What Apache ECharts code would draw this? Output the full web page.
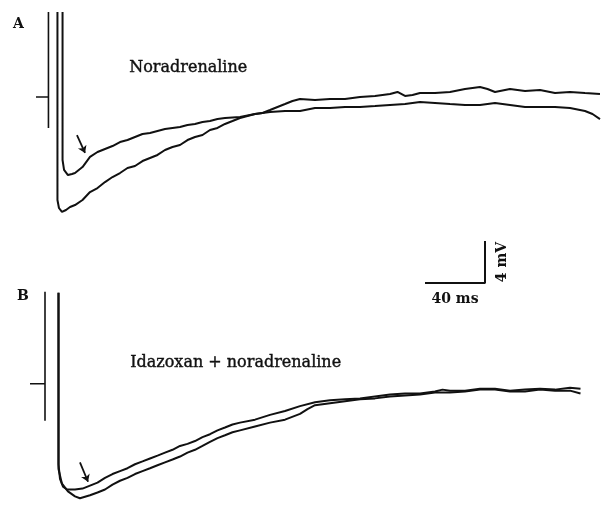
<!DOCTYPE html>
<html>
<head>
    <meta http-equiv="content-type" content="text/html;charset=utf-8" />
    <title>Noradrenaline / Idazoxan</title>
    <script src="https://cdn.jsdelivr.net/npm/echarts@6/dist/echarts.min.js"></script>
    <style type="text/css">
        * { margin: 0; padding: 0 }
        html, body { background: #fff; }
        #chart { width: 611px; height: 506px; }
    </style>
</head>
<body>
<div id="chart"></div>
<script>
    // time in ms (0 = stimulus), membrane potential in mV relative to baseline
    // panel A, control trace (deeper AHP)
    var controlA = [
        [-1.7, 8.10], [-1.7, -9.81], [-0.7, -10.57], [1.3, -10.95], [4, -10.76], [6.7, -10.48],
        [10, -10.29], [15, -9.81], [20, -9.05], [25, -8.67], [30, -8.10], [35, -7.62], [40, -7.24],
        [45, -6.76], [50, -6.57], [55, -6.10], [60, -5.81], [65, -5.52], [70, -5.05], [75, -4.76],
        [80, -4.57], [85, -4.10], [90, -3.81], [95, -3.62], [100, -3.14], [105, -2.95], [110, -2.57],
        [115, -2.29], [120, -2.00], [125, -1.81], [130, -1.62], [135, -1.52], [140, -1.24], [145, -0.95],
        [150, -0.67], [155, -0.38], [160, -0.19], [170, -0.29], [180, -0.19], [190, -0.19], [200, 0],
        [210, 0.10], [220, 0.29], [225, 0.48], [230, 0.10], [235, 0.19], [240, 0.38], [250, 0.38],
        [260, 0.48], [270, 0.76], [280, 0.95], [285, 0.76], [290, 0.48], [300, 0.76], [310, 0.57],
        [320, 0.67], [330, 0.38], [340, 0.48], [350, 0.38], [360, 0.29]
    ];
    // panel A, noradrenaline trace
    var noradA = [
        [1.7, 8.10], [1.7, -6.00], [2.7, -6.95], [5.3, -7.43], [8, -7.33], [10, -7.24], [15, -6.67],
        [20, -5.71], [25, -5.24], [30, -4.95], [35, -4.67], [40, -4.29], [45, -4.10], [50, -3.81],
        [55, -3.52], [60, -3.43], [65, -3.24], [70, -3.05], [75, -2.95], [80, -2.86], [85, -2.67],
        [90, -2.57], [95, -2.38], [100, -2.29], [105, -2.10], [110, -2.00], [120, -1.90], [130, -1.62],
        [140, -1.43], [150, -1.33], [160, -1.33], [170, -1.05], [180, -1.05], [190, -0.95], [200, -0.95],
        [210, -0.86], [220, -0.76], [230, -0.67], [240, -0.48], [250, -0.57], [260, -0.67], [270, -0.76],
        [280, -0.76], [290, -0.57], [300, -0.76], [310, -0.95], [320, -0.95], [330, -0.95], [340, -1.05],
        [350, -1.33], [355, -1.62], [360, -2.10]
    ];
    // panel B, control trace
    var controlB = [
        [-1, 8.95], [-1, -8.38], [1.3, -9.81], [5.3, -10.57], [10, -11.05], [13.3, -11.24], [20, -10.95],
        [25, -10.67], [30, -10.38], [35, -9.90], [40, -9.52], [45, -9.24], [50, -8.86], [55, -8.57],
        [60, -8.29], [65, -8.00], [70, -7.71], [75, -7.43], [80, -7.14], [85, -6.76], [90, -6.48],
        [95, -6.10], [100, -5.71], [105, -5.33], [110, -5.05], [115, -4.76], [120, -4.57], [130, -4.19],
        [140, -3.81], [150, -3.52], [160, -2.95], [165, -2.48], [170, -2.10], [180, -1.90], [190, -1.71],
        [200, -1.52], [210, -1.43], [220, -1.24], [230, -1.14], [240, -1.05], [250, -0.86], [260, -0.86],
        [270, -0.76], [280, -0.57], [290, -0.57], [300, -0.76], [310, -0.76], [320, -0.57], [330, -0.67],
        [340, -0.67], [347, -0.95]
    ];
    // panel B, idazoxan + noradrenaline trace
    var idazB = [
        [-1, 8.95], [-1, -7.90], [0, -9.33], [2, -10.10], [4.7, -10.38], [10, -10.38], [15, -10.29],
        [20, -10.00], [25, -9.71], [30, -9.24], [35, -8.86], [40, -8.57], [45, -8.29], [50, -7.90],
        [55, -7.62], [60, -7.33], [65, -7.05], [70, -6.76], [75, -6.48], [80, -6.10], [85, -5.90],
        [90, -5.62], [95, -5.24], [100, -4.95], [105, -4.57], [110, -4.29], [115, -4.00], [120, -3.81],
        [130, -3.52], [140, -3.05], [150, -2.67], [160, -2.19], [170, -1.81], [180, -1.62], [190, -1.52],
        [200, -1.43], [210, -1.24], [220, -1.05], [230, -0.95], [240, -0.95], [250, -0.76], [255, -0.57],
        [260, -0.67], [270, -0.67], [280, -0.48], [290, -0.48], [300, -0.67], [310, -0.57], [320, -0.48],
        [330, -0.57], [340, -0.38], [347, -0.48]
    ];
    // calibration artifacts at the left of each panel
    var artifactA = [[-7.7, 8.10], [-7.7, -2.95]];
    var tickA = [[-16, 0], [-7.7, 0]];
    var artifactB = [[-10, 9.05], [-10, -3.62]];
    var tickB = [[-20, 0], [-10, 0]];
    // arrows marking the AHP
    var arrowA = [[11.3, -3.62], [16.7, -5.33]];
    var arrowB = [[13.3, -7.71], [18.7, -9.62]];
    // scale bar: 40 ms, 4 mV
    var scaleBar = [[0, 0], [40, 0], [40, 4]];

    var ink = '#111';
    var serif = '"DejaVu Serif", serif';

    function trace(data, idx, w) {
        return {
            type: 'line', data: data, xAxisIndex: idx, yAxisIndex: idx,
            showSymbol: false, symbol: 'none', animation: false,
            lineStyle: { color: ink, width: w || 2 }
        };
    }
    function arrow(pts, idx) {
        return {
            type: 'lines', coordinateSystem: 'cartesian2d', xAxisIndex: idx, yAxisIndex: idx,
            symbol: ['none', 'arrow'], symbolSize: 7, animation: false,
            lineStyle: { color: ink, width: 1.8, opacity: 1 },
            data: [{ coords: pts }]
        };
    }

    var chart = echarts.init(document.getElementById('chart'));
    chart.setOption({
        backgroundColor: '#fff',
        animation: false,
        grid: [
            { left: 0, top: 2.5, width: 600, height: 220.5 },
            { left: 0, top: 282, width: 600, height: 231 },
            { left: 425, top: 241, width: 60, height: 42 }
        ],
        xAxis: [
            { type: 'value', gridIndex: 0, min: -40, max: 360, show: false },
            { type: 'value', gridIndex: 1, min: -40, max: 360, show: false },
            { type: 'value', gridIndex: 2, min: 0, max: 40, show: true,
              axisLine: { show: false }, axisTick: { show: false }, axisLabel: { show: false },
              splitLine: { show: false },
              name: '40 ms', nameLocation: 'middle', nameGap: 9,
              nameTextStyle: { fontFamily: serif, fontWeight: 'bold', fontSize: 14, color: ink } }
        ],
        yAxis: [
            { type: 'value', gridIndex: 0, min: -12, max: 9, show: false },
            { type: 'value', gridIndex: 1, min: -12, max: 10, show: false },
            { type: 'value', gridIndex: 2, min: 0, max: 4, show: true, position: 'right',
              axisLine: { show: false }, axisTick: { show: false }, axisLabel: { show: false },
              splitLine: { show: false },
              name: '4 mV', nameLocation: 'middle', nameGap: 10, nameRotate: 90,
              nameTextStyle: { fontFamily: serif, fontWeight: 'bold', fontSize: 14, color: ink } }
        ],
        graphic: [
            { type: 'text', left: 13, top: 17, style: { text: 'A', font: 'bold 14px ' + serif, fill: ink } },
            { type: 'text', left: 17, top: 289, style: { text: 'B', font: 'bold 14px ' + serif, fill: ink } },
            { type: 'text', left: 129, top: 60, style: { text: 'Noradrenaline', font: '16px ' + serif, fill: ink, stroke: ink, lineWidth: 0.4 } },
            { type: 'text', left: 130, top: 355, style: { text: 'Idazoxan + noradrenaline', font: '16px ' + serif, fill: ink, stroke: ink, lineWidth: 0.4 } }
        ],
        series: [
            trace(controlA, 0),
            trace(noradA, 0),
            trace(artifactA, 0, 1.6),
            trace(tickA, 0, 1.6),
            arrow(arrowA, 0),
            trace(controlB, 1),
            trace(idazB, 1),
            trace(artifactB, 1, 1.6),
            trace(tickB, 1, 1.6),
            arrow(arrowB, 1),
            trace(scaleBar, 2, 2)
        ]
    });
</script>
</body>
</html>
